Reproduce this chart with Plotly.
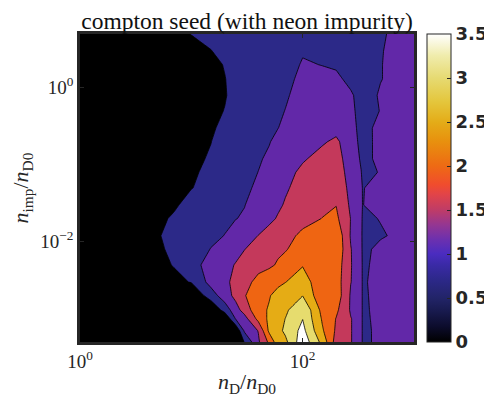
import numpy as np
import plotly.graph_objects as go

# nD / nD0 (columns) and n_imp / nD0 (rows, top to bottom)
n_d_ratio = [1, 2, 3, 5, 7, 10, 15, 20, 25, 30, 40, 50, 60, 70, 100, 150, 200,
             270, 335, 345, 500, 700, 1000]
n_imp_ratio = [5, 3, 2, 1.3, 0.8, 0.5, 0.3, 0.2, 0.12, 0.08, 0.05, 0.03, 0.02,
               0.012, 0.008, 0.005, 0.003, 0.002, 0.0013, 0.001, 0.0007, 0.0005]

# compton seed, one row per n_imp value
compton_seed = [
    [0.0, 0.02, 0.05, 0.15, 0.35, 0.51, 0.6, 0.65, 0.68, 0.7, 0.73, 0.75, 0.77, 0.78, 0.82, 0.85, 0.87, 0.9, 0.92, 0.92, 0.97, 1.05, 1.1],
    [0.0, 0.02, 0.05, 0.1, 0.2, 0.35, 0.49, 0.6, 0.66, 0.7, 0.76, 0.8, 0.84, 0.88, 0.96, 0.93, 0.9, 0.9, 0.9, 0.9, 0.97, 1.13, 1.15],
    [0.02, 0.05, 0.1, 0.15, 0.22, 0.3, 0.4, 0.52, 0.58, 0.62, 0.68, 0.72, 0.77, 0.81, 1.04, 0.99, 0.95, 0.93, 0.92, 0.92, 0.99, 1.07, 1.12],
    [0.03, 0.06, 0.12, 0.2, 0.27, 0.34, 0.42, 0.49, 0.61, 0.71, 0.76, 0.8, 0.85, 0.9, 1.09, 1.12, 1.08, 0.9, 0.9, 0.9, 0.99, 1.07, 1.12],
    [0.04, 0.07, 0.13, 0.2, 0.26, 0.33, 0.4, 0.48, 0.59, 0.69, 0.76, 0.82, 0.89, 0.95, 1.16, 1.2, 1.15, 1.05, 0.87, 0.87, 1.03, 1.1, 1.12],
    [0.05, 0.08, 0.15, 0.22, 0.3, 0.36, 0.42, 0.51, 0.6, 0.68, 0.78, 0.85, 0.93, 1.01, 1.2, 1.3, 1.3, 1.1, 0.86, 0.86, 1.01, 1.1, 1.15],
    [0.06, 0.1, 0.17, 0.25, 0.32, 0.38, 0.45, 0.59, 0.68, 0.75, 0.85, 0.92, 0.995, 1.07, 1.3, 1.36, 1.36, 1.15, 0.88, 0.88, 1.1, 1.12, 1.15],
    [0.07, 0.12, 0.2, 0.28, 0.35, 0.42, 0.495, 0.62, 0.72, 0.8, 0.9, 0.98, 1.1, 1.2, 1.38, 1.45, 1.58, 1.24, 0.88, 0.875, 1.1, 1.13, 1.15],
    [0.08, 0.14, 0.22, 0.3, 0.37, 0.43, 0.53, 0.64, 0.74, 0.82, 0.96, 1.06, 1.19, 1.3, 1.45, 1.65, 1.72, 1.22, 0.96, 0.9, 1.08, 1.12, 1.15],
    [0.09, 0.15, 0.24, 0.32, 0.38, 0.45, 0.58, 0.7, 0.8, 0.88, 1.005, 1.1, 1.24, 1.35, 1.6, 1.8, 1.88, 1.22, 1.01, 0.95, 1.01, 1.1, 1.15],
    [0.1, 0.16, 0.25, 0.33, 0.4, 0.49, 0.6, 0.72, 0.82, 0.9, 1.09, 1.24, 1.35, 1.45, 1.66, 1.9, 1.97, 1.32, 1.1, 0.985, 1.12, 1.13, 1.15],
    [0.1, 0.18, 0.28, 0.38, 0.45, 0.63, 0.75, 0.85, 0.93, 0.99, 1.16, 1.3, 1.43, 1.54, 1.75, 1.9, 1.99, 1.42, 1.15, 0.99, 1.15, 1.15, 1.18],
    [0.12, 0.2, 0.32, 0.42, 0.55, 0.7, 0.82, 0.92, 0.99, 1.04, 1.24, 1.4, 1.54, 1.65, 1.85, 2.01, 2.1, 1.49, 1.2, 0.9, 1.02, 1.12, 1.18],
    [0.15, 0.25, 0.38, 0.46, 0.67, 0.8, 0.9, 1.01, 1.17, 1.3, 1.51, 1.67, 1.77, 1.85, 2.1, 2.3, 2.4, 1.46, 1.2, 0.85, 0.95, 1.07, 1.15],
    [0.14, 0.24, 0.36, 0.44, 0.58, 0.75, 1.015, 1.15, 1.34, 1.49, 1.69, 1.85, 1.92, 1.97, 2.2, 2.4, 2.42, 1.52, 1.2, 0.88, 1.12, 1.15, 1.18],
    [0.12, 0.2, 0.3, 0.4, 0.52, 0.8, 1.21, 1.35, 1.53, 1.68, 1.81, 1.92, 2.05, 2.16, 2.47, 2.4, 2.3, 1.52, 1.29, 0.9, 1.16, 1.18, 1.2],
    [0.1, 0.16, 0.25, 0.32, 0.4, 0.52, 1.17, 1.42, 1.6, 1.8, 2.18, 2.3, 2.4, 2.49, 2.75, 2.15, 2.25, 1.51, 1.3, 0.9, 1.26, 1.22, 1.2],
    [0.02, 0.03, 0.04, 0.05, 0.05, 0.05, 0.75, 1.27, 1.63, 1.96, 2.39, 2.47, 2.65, 2.8, 2.99, 2.12, 2.3, 1.45, 1.3, 0.9, 1.2, 1.22, 1.2],
    [0.0, 0.0, 0.01, 0.02, 0.02, 0.02, 0.02, 0.7, 1.3, 1.7, 2.36, 2.54, 2.75, 2.9, 3.45, 2.35, 2.1, 1.45, 1.3, 0.9, 1.16, 1.2, 1.2],
    [0.0, 0.0, 0.0, 0.01, 0.01, 0.01, 0.01, 0.01, 1.02, 1.3, 2.15, 2.6, 2.8, 3.01, 3.49, 2.45, 1.98, 1.52, 1.3, 0.9, 1.13, 1.2, 1.2],
    [0.0, 0.0, 0.0, 0.0, 0.01, 0.01, 0.01, 0.01, 0.01, 1.07, 1.52, 2.6, 2.85, 3.1, 3.65, 2.56, 1.93, 1.52, 1.3, 0.9, 1.1, 1.2, 1.2],
    [0.0, 0.0, 0.0, 0.0, 0.0, 0.01, 0.02, 0.05, 0.1, 0.52, 1.43, 2.1, 2.8, 2.88, 3.83, 2.85, 1.78, 1.52, 1.3, 0.9, 1.1, 1.2, 1.2],
]

level_start, level_end, level_step = 0.5, 3.5, 0.5
band_colors = ["#000000", "#2c2988", "#6228a8", "#c4395b",
               "#ef6512", "#e5ac15", "#e6dc6e", "#ffffff"]
cbar_ticks = [0, 0.5, 1, 1.5, 2, 2.5, 3, 3.5]
cbar_ticktext = ["0", "0.5", "1", "1.5", "2", "2.5", "3", "3.5"]
cbar_stops = [
    (0.0, "#000000"), (0.05, "#0c0c2c"), (0.10, "#181a4e"), (0.143, "#222468"),
    (0.20, "#2c2888"), (0.25, "#3a2aa6"), (0.286, "#4a2cc0"), (0.33, "#6a30b0"),
    (0.38, "#943692"), (0.43, "#c03c66"), (0.48, "#e24448"), (0.51, "#f04c2e"),
    (0.571, "#ee6a14"), (0.65, "#e8900e"), (0.714, "#e4ac18"), (0.78, "#e4c63c"),
    (0.857, "#e6da72"), (0.93, "#f0ecac"), (1.0, "#ffffff"),
]
x_tickvals = [1, 100]
y_tickvals = [0.01, 1]

xlog = np.log10(n_d_ratio)
ylog = np.log10(n_imp_ratio[::-1])
z = compton_seed[::-1]

n_bands = len(band_colors) - 1
band_scale = [[i / n_bands, c] for i, c in enumerate(band_colors)]

serif = "Liberation Serif"
ink = "#262626"

# the page body adds an 8 px offset, so the figure is drawn 8 px smaller
W, H = 484, 389

fig = go.Figure()
fig.add_trace(go.Contour(
    x=xlog, y=ylog, z=z,
    autocontour=False,
    contours=dict(start=level_start, end=level_end, size=level_step,
                  coloring="fill", showlines=True),
    colorscale=band_scale,
    line=dict(color="#000000", width=0.8, smoothing=0),
    showscale=False, hoverinfo="skip",
))
fig.add_trace(go.Scatter(
    x=[xlog[0]], y=[ylog[0]], mode="markers", hoverinfo="skip", showlegend=False,
    marker=dict(size=1, opacity=0, color=[0], cmin=0, cmax=3.5,
                colorscale=[[s, c] for s, c in cbar_stops], showscale=True,
                colorbar=dict(x=1.04, xanchor="left", xpad=0, y=0.5, yanchor="middle",
                              len=1.0, ypad=0, thickness=24, outlinewidth=1,
                              outlinecolor=ink, tickvals=cbar_ticks,
                              ticktext=cbar_ticktext, ticks="inside", ticklen=4,
                              tickcolor=ink,
                              tickfont=dict(family="DejaVu Sans", size=18,
                                            color=ink, weight="bold"))),
))

fig.update_layout(
    width=W, height=H,
    margin=dict(l=72, r=77.5, t=26.2, b=54.8, autoexpand=False),
    paper_bgcolor="white", plot_bgcolor="white",
    showlegend=False,
    title=dict(text="compton seed (with neon impurity)", x=0.5, xref="paper",
               xanchor="center", y=1 - 13 / H, yanchor="middle",
               font=dict(family=serif, size=23.5, color="#111111")),
)
fig.update_xaxes(
    range=[0, 3], showgrid=False, zeroline=False,
    tickvals=np.log10(x_tickvals), ticktext=["10<sup>0</sup>", "10<sup>2</sup>"],
    ticks="inside", ticklen=4, tickwidth=1.2, tickcolor=ink,
    showline=True, linecolor=ink, linewidth=2.5, mirror="ticks",
    tickfont=dict(family=serif, size=19, color=ink),
    title=dict(text="<i>n</i><sub>D</sub>/<i>n</i><sub>D0</sub>", standoff=4,
               font=dict(family=serif, size=22, color=ink)),
)
fig.update_yaxes(
    range=[np.log10(n_imp_ratio[-1]), np.log10(n_imp_ratio[0])],
    showgrid=False, zeroline=False,
    tickvals=np.log10(y_tickvals), ticktext=["10<sup>\u22122</sup>", "10<sup>0</sup>"],
    ticks="inside", ticklen=4, tickwidth=1.2, tickcolor=ink,
    showline=True, linecolor=ink, linewidth=2.5, mirror="ticks",
    tickfont=dict(family=serif, size=19, color=ink),
    title=dict(text="<i>n</i><sub>imp</sub>/<i>n</i><sub>D0</sub>", standoff=8,
               font=dict(family=serif, size=22, color=ink)),
)

fig.write_html("out.html")
